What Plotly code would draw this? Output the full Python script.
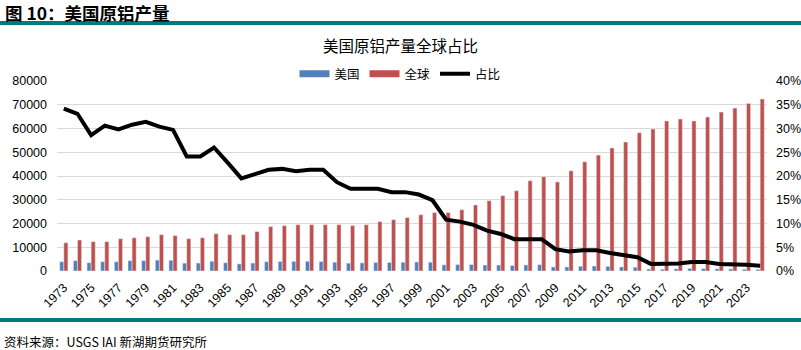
import plotly.graph_objects as go

years = list(range(1973, 2025))
us = [3900, 4350, 3500, 3900, 3900, 4350, 4350, 4600, 4500, 3300,
      3350, 4100, 3500, 3000, 3350, 3900, 4000, 4050, 4100, 4000,
      3700, 3300, 3400, 3600, 3600, 3700, 3800, 3700, 2600, 2700,
      2700, 2500, 2500, 2300, 2550, 2650, 1700, 1700, 2000, 2100,
      1950, 1700, 1600, 800, 740, 900, 1100, 1000, 900, 860,
      750, 670]
world = [11900, 13050, 12350, 12350, 13600, 14000, 14450, 15300, 14900, 13600,
         14000, 15700, 15300, 15300, 16600, 18700, 19100, 19500, 19500, 19500,
         19500, 19100, 19500, 20800, 21600, 22500, 23700, 24600, 24600, 25800,
         27800, 29600, 31700, 33800, 38000, 39700, 37500, 42200, 46000, 48800,
         51800, 54300, 58200, 59800, 63200, 64000, 63200, 64800, 66900, 68600,
         70500, 72400]
share = [34.2, 33.1, 28.6, 30.6, 29.8, 30.8, 31.4, 30.4, 29.7, 24.1,
         24.1, 26.0, 22.8, 19.5, 20.4, 21.3, 21.5, 21.0, 21.3, 21.3,
         18.7, 17.3, 17.3, 17.3, 16.6, 16.6, 16.1, 14.9, 10.8, 10.4,
         9.7, 8.5, 7.8, 6.7, 6.7, 6.7, 4.6, 4.1, 4.35, 4.35,
         3.8, 3.3, 2.9, 1.5, 1.5, 1.6, 1.9, 1.9, 1.5, 1.5,
         1.3, 1.1]
tick_years = list(range(1973, 2025, 2))
left_ticks = list(range(0, 80001, 10000))
right_ticks = list(range(0, 41, 5))

BLUE = "#4F81BD"
RED = "#C0504D"
TEAL = "#007B7A"
FONT = "Liberation Sans, Arial, sans-serif"
CJK = "Noto Sans CJK SC, sans-serif"

fig = go.Figure()
fig.add_trace(go.Bar(x=years, y=us, name="美国", marker_color=BLUE,
                     showlegend=False))
fig.add_trace(go.Bar(x=years, y=world, name="全球", marker_color=RED,
                     showlegend=False))
fig.add_trace(go.Scatter(x=[None], y=[None], mode="lines", name="美国",
                         line=dict(color=BLUE, width=7)))
fig.add_trace(go.Scatter(x=[None], y=[None], mode="lines", name="全球",
                         line=dict(color=RED, width=7)))
fig.add_trace(go.Scatter(x=years, y=share, name="占比", mode="lines",
                         yaxis="y2", line=dict(color="black", width=4)))

# plot area: x 57..767, y 81..271
L, R, T, B = 57, 767, 81, 271
W, H = R - L, B - T
def px(x):
    return (x - L) / W
def py(y):
    return (B - y) / H

shapes = [
    dict(type="rect", xref="paper", yref="paper", x0=px(0), x1=px(801),
         y0=py(25), y1=py(21), fillcolor=TEAL, line_width=0, layer="above"),
    dict(type="rect", xref="paper", yref="paper", x0=px(0), x1=px(801),
         y0=py(322), y1=py(318), fillcolor=TEAL, line_width=0, layer="above"),
]
annotations = [
    dict(text="<b>图 10：美国原铝产量</b>", xref="paper", yref="paper",
         x=px(3), y=py(12), xanchor="left", yanchor="middle", showarrow=False,
         font=dict(family=CJK, size=17.5, color="#000")),
    dict(text="美国原铝产量全球占比", xref="paper", yref="paper",
         x=px(400), y=py(45), xanchor="center", yanchor="middle", showarrow=False,
         font=dict(family=CJK, size=15.5, color="#000")),
    dict(text="资料来源：USGS IAI 新湖期货研究所", xref="paper", yref="paper",
         x=px(2), y=py(341), xanchor="left", yanchor="middle", showarrow=False,
         font=dict(family=CJK, size=12.5, color="#000")),
]

fig.update_layout(
    width=801, height=350,
    margin=dict(l=L, r=801 - R, t=T, b=350 - B, pad=0, autoexpand=False),
    paper_bgcolor="white", plot_bgcolor="white",
    barmode="group", bargap=0.4, bargroupgap=0.0,
    font=dict(family=FONT, size=12.5, color="#000"),
    showlegend=True,
    legend=dict(orientation="h", x=px(400), xanchor="center", y=py(74),
                yanchor="middle", font=dict(family=CJK, size=12.5),
                itemwidth=30, tracegroupgap=0, bgcolor="rgba(0,0,0,0)"),
    xaxis=dict(range=[1972.5, 2024.5], tickmode="array", tickvals=tick_years,
               ticktext=[str(y) for y in tick_years], tickangle=-45,
               showgrid=False, zeroline=False, showline=False, ticks="",
               tickfont=dict(size=12.5), ticklabelstandoff=6, automargin=False),
    yaxis=dict(range=[0, 80000], tickmode="array", tickvals=left_ticks,
               ticktext=[str(v) for v in left_ticks],
               showgrid=True, gridcolor="#D9D9D9", gridwidth=1,
               zeroline=False, showline=False, ticks="", ticklabelstandoff=9,
               automargin=False),
    yaxis2=dict(range=[0, 40], overlaying="y", side="right", tickmode="array",
                tickvals=right_ticks, ticktext=[f"{v}%" for v in right_ticks],
                showgrid=False, zeroline=False, showline=False, ticks="",
                ticklabelstandoff=8, automargin=False),
    shapes=shapes, annotations=annotations,
)

fig.write_html("out.html")
